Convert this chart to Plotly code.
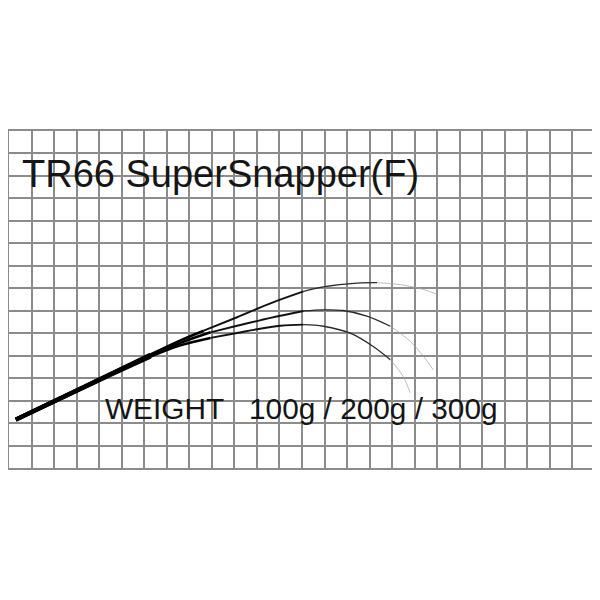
import plotly.graph_objects as go

# grid is 26 x 15 squares, curves traced in grid units (y up)
grid_cols = 26
grid_rows = 15

# 100g / 200g / 300g bend curves, from the butt to the tip
w100_x = [0.30, 4.06, 6.28, 7.61, 8.64, 10.12, 11.60, 13.07, 13.95, 15.44, 16.33, 17.36, 18.38, 18.99]
w100_y = [2.15, 3.97, 5.05, 5.68, 6.11, 6.71, 7.33, 7.86, 8.06, 8.23, 8.25, 8.16, 7.95, 7.73]

w200_x = [0.30, 4.06, 6.28, 7.61, 8.94, 10.12, 11.60, 13.07, 13.95, 14.83, 15.88, 16.92, 17.80, 18.39, 18.82]
w200_y = [2.15, 3.96, 5.00, 5.57, 6.04, 6.33, 6.68, 6.99, 7.04, 7.01, 6.76, 6.31, 5.64, 4.97, 4.37]

w300_x = [0.30, 4.06, 6.28, 7.61, 8.94, 10.12, 10.86, 12.04, 13.07, 13.95, 15.14, 16.16, 16.92, 17.49, 17.80]
w300_y = [2.15, 3.94, 4.96, 5.46, 5.79, 6.01, 6.15, 6.33, 6.38, 6.31, 6.00, 5.41, 4.82, 4.07, 3.35]

title_text = "TR66 SuperSnapper(F)"
weight_text = "WEIGHT\u00a0\u00a0\u00a0100g / 200g / 300g"

grid_color = "#8c8c8c"

fig = go.Figure()

# taper: each curve split into pieces that get thinner and lighter towards the tip
taper = [(4.2, "#000000"), (2.6, "#000000"), (1.9, "#111111"), (1.3, "#2a2a2a"), (0.7, "#a0a0a0")]

def add_tapered(xs, ys, cuts):
    for i, (w, c) in enumerate(taper):
        a, b = cuts[i], cuts[i + 1]
        fig.add_trace(go.Scatter(x=xs[a:b + 1], y=ys[a:b + 1], mode="lines",
                                 line=dict(color=c, width=w, shape="spline"),
                                 hoverinfo="skip"))

add_tapered(w100_x, w100_y, [0, 2, 4, 7, 10, 13])
add_tapered(w200_x, w200_y, [0, 2, 4, 7, 11, 14])
add_tapered(w300_x, w300_y, [0, 2, 4, 8, 12, 14])

fig.add_annotation(x=0.51, y=13.08, xref="x", yref="y", text=title_text,
                   showarrow=False, xanchor="left", yanchor="middle",
                   font=dict(family="Liberation Sans, Arial", size=38, color="#151515"))
fig.add_annotation(x=4.17, y=2.63, xref="x", yref="y", text=weight_text,
                   showarrow=False, xanchor="left", yanchor="middle",
                   font=dict(family="Liberation Sans, Arial", size=29.8, color="#151515"))

axis_style = dict(showgrid=True, gridcolor=grid_color, gridwidth=2, dtick=1, tick0=0,
                  showticklabels=False, ticks="", zeroline=False,
                  showline=True, linecolor=grid_color, linewidth=2, mirror=True,
                  fixedrange=True)

# page body adds 8px, so margins are pulled in by that much
fig.update_layout(
    width=600, height=600,
    margin=dict(l=1, r=13, t=123, b=140),
    paper_bgcolor="white", plot_bgcolor="white",
    showlegend=False,
    xaxis=dict(range=[0, grid_cols], **axis_style),
    yaxis=dict(range=[0, grid_rows], **axis_style),
)

fig.write_html("out.html")
